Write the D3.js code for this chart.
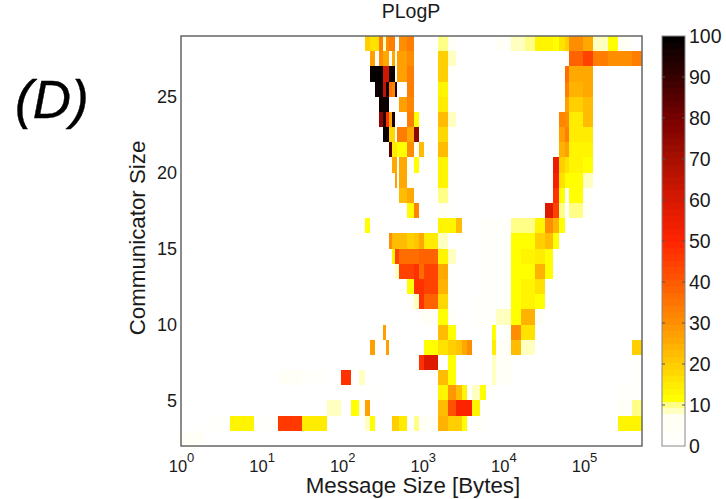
<!DOCTYPE html>
<html>
<head>
<meta charset="utf-8">
<script src="https://cdn.jsdelivr.net/npm/d3@7"></script>
<style>
  html, body { margin: 0; background: #fff; }
  text { font-family: "Liberation Sans", Arial, sans-serif; fill: #1a1a1a; }
</style>
</head>
<body>
<script>
'use strict';

// each cell is [from bytes, to bytes, percent]
const comm28 = [[192,224,20],[224,288,17],[288,320,33],[320,352,9],[352,384,30],[384,448,33],[512,640,30],[640,768,33],[1536,2048,10],[2048,2560,4],[8192,12288,4],[12288,18432,9],[18432,24576,10],[24576,32768,14],[32768,40960,13],[40960,49152,11],[49152,57344,17],[57344,65536,20],[65536,98304,30],[98304,131072,25],[131072,196608,9],[196608,262144,12],[262144,393216,4]];
const comm27 = [[224,256,28],[288,320,30],[320,384,26],[416,448,26],[480,640,27],[640,768,30],[1536,2048,20],[2048,2560,9],[65536,98304,38],[98304,131072,45],[131072,196608,33],[196608,393216,31],[393216,524288,34]];
const comm26 = [[224,320,99],[320,384,62],[384,448,98],[480,640,27],[640,768,33],[1536,2048,20],[2048,2560,3],[49152,57344,3],[57344,65536,36],[65536,98304,26],[98304,131072,25]];
const comm25 = [[256,320,98],[320,352,65],[352,384,98],[384,416,35],[416,448,32],[448,480,95],[640,768,33],[1536,2048,14],[2048,2560,3],[49152,57344,3],[57344,65536,34],[65536,98304,24],[98304,131072,26]];
const comm24 = [[288,384,98],[512,640,28],[640,768,32],[1536,2048,15],[2048,2560,3],[49152,57344,3],[57344,65536,28],[65536,98304,19],[98304,131072,23]];
const comm23 = [[288,320,75],[320,352,95],[352,384,48],[384,416,25],[416,448,95],[640,768,33],[768,896,12],[1536,2048,22],[2048,2560,9],[49152,57344,32],[57344,65536,30],[65536,98304,15],[98304,131072,22]];
const comm22 = [[320,384,98],[384,448,18],[480,640,33],[640,768,26],[768,896,75],[1536,2048,18],[2048,2560,3],[40960,49152,3],[49152,57344,28],[57344,65536,33],[65536,98304,15],[98304,131072,15]];
const comm21 = [[384,416,85],[416,480,15],[480,640,11],[640,768,30],[768,896,5],[896,1024,23],[1536,2048,22],[2048,2560,3],[40960,49152,3],[49152,57344,24],[57344,65536,28],[65536,98304,13],[98304,131072,14]];
const comm20 = [[416,480,25],[512,640,25],[640,768,5],[768,896,12],[1536,2048,13],[2048,2560,3],[40960,49152,55],[49152,57344,20],[57344,65536,16],[65536,98304,14],[98304,131072,11]];
const comm19 = [[448,480,28],[512,640,26],[640,768,4],[1536,2048,13],[2048,2560,3],[40960,49152,52],[49152,57344,16],[57344,98304,11],[98304,131072,9]];
const comm18 = [[512,640,23],[640,768,25],[1536,2048,10],[2048,2560,3],[40960,49152,48],[49152,57344,12],[57344,65536,5],[65536,98304,11],[98304,131072,4]];
const comm17 = [[640,768,12],[768,896,32],[1536,2048,5],[2048,2560,3],[32768,40960,58],[40960,49152,44],[49152,57344,10],[65536,98304,10],[98304,131072,4]];
const comm16 = [[192,224,12],[288,320,3],[1536,2048,13],[2048,2560,13],[2560,3072,23],[5120,12288,3],[12288,24576,10],[24576,32768,14],[32768,40960,30],[40960,49152,24],[49152,57344,12]];
const comm15 = [[384,416,30],[416,480,22],[480,640,22],[640,768,20],[768,896,21],[896,1024,25],[1024,1536,15],[1536,2048,9],[5120,12288,3],[12288,24576,11],[24576,32768,19],[32768,40960,22],[40960,49152,12]];
const comm14 = [[416,448,13],[448,512,45],[512,896,36],[896,1024,38],[1024,1536,39],[1536,2048,13],[2048,2560,9],[5120,12288,3],[12288,16384,11],[16384,24576,13],[24576,32768,15],[32768,40960,12]];
const comm13 = [[448,512,9],[512,768,44],[768,896,47],[896,1024,36],[1024,1536,44],[1536,2048,25],[2048,2560,3],[5120,12288,3],[12288,16384,11],[16384,24576,12],[24576,32768,24],[32768,40960,11]];
const comm12 = [[640,768,12],[768,1024,47],[1024,1536,45],[1536,2048,24],[2048,2560,3],[5120,12288,3],[12288,16384,11],[16384,24576,14],[24576,32768,16]];
const comm11 = [[640,768,5],[768,896,9],[896,1024,47],[1024,1536,38],[1536,2048,18],[2048,2560,3],[4096,12288,3],[12288,16384,11],[16384,24576,13],[24576,32768,12]];
const comm10 = [[896,1536,4],[1536,2048,12],[2048,2560,4],[4096,8192,3],[8192,12288,9],[12288,16384,12],[16384,24576,24],[24576,32768,4]];
const comm9 = [[320,352,28],[1536,2048,22],[2048,2560,12],[7168,8192,12],[8192,12288,3],[12288,16384,30],[16384,24576,16]];
const comm8 = [[224,256,28],[352,384,28],[1024,1536,12],[1536,2048,17],[2048,2560,19],[2560,3072,21],[3072,3584,26],[3584,4096,30],[7168,8192,15],[8192,12288,4],[12288,16384,22],[16384,24576,9],[393216,524288,20]];
const comm7 = [[896,1024,48],[1024,1536,58],[2048,2560,11],[7168,8192,9],[8192,12288,4],[393216,524288,3]];
const comm6 = [[16,32,4],[32,64,3],[96,128,47],[160,192,9],[1536,2048,22],[2048,2560,11],[7168,8192,8],[8192,12288,4],[393216,524288,3]];
const comm5 = [[224,256,3],[1536,2048,14],[2048,2560,29],[2560,3072,22],[3072,3584,13],[4096,5120,9],[5120,6144,12],[6144,8192,3],[262144,393216,3],[393216,524288,3]];
const comm4 = [[64,96,9],[128,160,12],[160,192,4],[192,224,27],[1536,2048,22],[2048,2560,42],[2560,4096,50],[4096,5120,14],[5120,6144,3],[262144,393216,4],[393216,524288,10]];
const comm3 = [[2,4,3],[4,8,13],[8,16,3],[16,32,46],[32,64,15],[192,224,9],[224,256,12],[416,512,20],[512,640,15],[768,896,10],[896,1536,4],[1536,2048,24],[2048,3072,19],[3072,3584,12],[4096,6144,3],[262144,524288,13]];
const comm2 = [[1,2,4]];

const rowSizes = d3.range(28, 1, -1);
const rowCells = [comm28, comm27, comm26, comm25, comm24, comm23, comm22, comm21, comm20, comm19, comm18, comm17, comm16, comm15, comm14, comm13, comm12, comm11, comm10, comm9, comm8, comm7, comm6, comm5, comm4, comm3, comm2];

const xTicks = [1, 10, 100, 1000, 10000, 100000];
const yTicks = [5, 10, 15, 20, 25];
const barTicks = d3.range(0, 101, 10);

const stopValues = [0, 7.5, 8.6, 10.16, 11.7, 20, 30, 40, 50, 60, 70, 80, 90, 100];
const stopColors = ['#ffffff', '#fffff2', '#ffffc0', '#ffff88', '#ffff00', '#ffcc00', '#ff9000', '#ff5a00', '#ff2400', '#d81800', '#a81000', '#780000', '#380000', '#000000'];
const levels = 64;

const width = 726, height = 499;
const plot = { left: 181, right: 642, top: 36, bottom: 446 };
const bar = { left: 662, right: 685 };

const svg = d3.select('body').append('svg')
  .attr('width', width)
  .attr('height', height)
  .style('display', 'block');

const x = d3.scaleLog().domain([1, 524288]).range([plot.left, plot.right]);
const y = d3.scaleLinear().domain([2, 29]).range([plot.bottom, plot.top]);
const ramp = d3.scaleLinear().domain(stopValues).range(stopColors);
const c = v => ramp((Math.min(Math.floor(v / 100 * levels), levels - 1) + 0.5) * 100 / levels);

const cellData = rowSizes.flatMap((size, i) => rowCells[i].map(d => ({ size, from: d[0], to: d[1], value: d[2] })));

svg.append('g')
  .attr('shape-rendering', 'crispEdges')
  .selectAll('rect')
  .data(cellData)
  .join('rect')
  .attr('x', d => x(d.from))
  .attr('y', d => y(d.size + 1))
  .attr('width', d => x(d.to) - x(d.from))
  .attr('height', d => y(d.size) - y(d.size + 1))
  .attr('fill', d => c(d.value));

// frame
svg.append('rect')
  .attr('x', plot.left)
  .attr('y', plot.top)
  .attr('width', plot.right - plot.left)
  .attr('height', plot.bottom - plot.top)
  .attr('fill', 'none')
  .attr('stroke', '#666')
  .attr('stroke-width', 1.5);

// axes
const xAxis = svg.append('g')
  .attr('transform', `translate(0,${plot.bottom})`)
  .call(d3.axisBottom(x).tickValues(xTicks).tickSize(0).tickPadding(0).tickFormat(''));
xAxis.select('.domain').remove();
xAxis.selectAll('.tick').select('text').remove();
xAxis.selectAll('.tick').append('text')
  .attr('y', 26)
  .attr('text-anchor', 'middle')
  .attr('font-size', 16.5)
  .call(t => t.append('tspan').text('10'))
  .call(t => t.append('tspan')
    .attr('dy', -10)
    .attr('font-size', 13)
    .text(d => Math.round(Math.log10(d))));

const yAxis = svg.append('g')
  .attr('transform', `translate(${plot.left},0)`)
  .call(d3.axisLeft(y).tickValues(yTicks).tickSize(0).tickPadding(4));
yAxis.select('.domain').remove();
yAxis.selectAll('text').attr('font-size', 18).attr('font-family', '"Liberation Sans", Arial, sans-serif');

// colorbar
const yBar = d3.scaleLinear().domain([0, 100]).range([plot.bottom, plot.top]);
svg.append('g')
  .attr('shape-rendering', 'crispEdges')
  .selectAll('rect')
  .data(d3.range(levels))
  .join('rect')
  .attr('x', bar.left)
  .attr('width', bar.right - bar.left)
  .attr('y', i => yBar((i + 1) * 100 / levels))
  .attr('height', i => yBar(i * 100 / levels) - yBar((i + 1) * 100 / levels) + 0.5)
  .attr('fill', i => c((i + 0.5) * 100 / levels));

svg.append('rect')
  .attr('x', bar.left)
  .attr('y', plot.top)
  .attr('width', bar.right - bar.left)
  .attr('height', plot.bottom - plot.top)
  .attr('fill', 'none')
  .attr('stroke', '#888')
  .attr('stroke-width', 1);

svg.append('g')
  .selectAll('path')
  .data(barTicks.slice(1, -1))
  .join('path')
  .attr('d', d => `M${bar.left},${yBar(d)}h3M${bar.right},${yBar(d)}h-3`)
  .attr('stroke', '#555')
  .attr('stroke-width', 1);

const barAxis = svg.append('g')
  .attr('transform', `translate(${bar.right},0)`)
  .call(d3.axisRight(yBar).tickValues(barTicks).tickSize(0).tickPadding(4));
barAxis.select('.domain').remove();
barAxis.selectAll('text').attr('font-size', 19.5).attr('font-family', '"Liberation Sans", Arial, sans-serif');

// titles
svg.append('text')
  .attr('x', 411)
  .attr('y', 17.5)
  .attr('text-anchor', 'middle')
  .attr('font-size', 19.5)
  .text('PLogP');

svg.append('text')
  .attr('x', 413)
  .attr('y', 493)
  .attr('text-anchor', 'middle')
  .attr('font-size', 22.3)
  .text('Message Size [Bytes]');

svg.append('text')
  .attr('transform', 'translate(145,238) rotate(-90)')
  .attr('text-anchor', 'middle')
  .attr('font-size', 22.3)
  .text('Communicator Size');

svg.append('text')
  .attr('x', 15)
  .attr('y', 118)
  .attr('font-size', 53)
  .attr('font-style', 'italic')
  .attr('stroke', '#000')
  .attr('stroke-width', 0.4)
  .style('fill', '#000')
  .text('(D)');
</script>
</body>
</html>
